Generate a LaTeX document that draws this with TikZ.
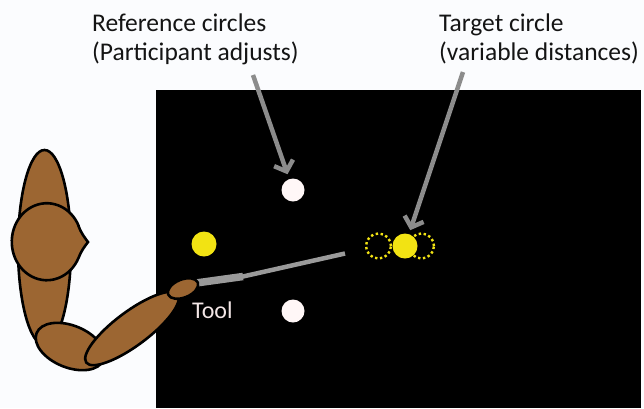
\documentclass[tikz,border=0pt]{standalone}
\usepackage{fontspec}
\setmainfont{Carlito}
\usetikzlibrary{arrows.meta,calc}
\definecolor{skin}{HTML}{9C6632}
\definecolor{spot}{HTML}{F2E313}
\definecolor{pointer}{HTML}{8C8C8C}
\definecolor{toolgray}{HTML}{9A9A9A}
\definecolor{paper}{HTML}{FBFCFE}
\definecolor{tooltext}{HTML}{F3E6E6}
\tikzset{
  limb/.style={fill=skin, draw=black, line width=2.6pt},
  refdot/.style={circle, fill=white!97!red, minimum size=23pt, inner sep=0pt},
  yellowdot/.style={circle, fill=spot, minimum size=25pt, inner sep=0pt},
  ghost/.style={circle, draw=spot, line width=2.4pt, dash pattern=on 2.4pt off 2.6pt, minimum size=25pt, inner sep=0pt},
  caption/.style={font=\fontsize{25.5}{29}\selectfont, text=black!92, align=left, inner sep=0pt, anchor=base west},
  pointerarrow/.style={draw=pointer, line width=4.5pt, -{Straight Barb[length=9pt,width=20pt]}}
}
\begin{document}
\begin{tikzpicture}[x=1pt, y=-1pt]
  % page and screen
  \fill[paper] (0,0) rectangle (644,408);
  \useasboundingbox (0,0) rectangle (644,408);
  \fill[black] (156,90) rectangle (641,408);

  % circles on the screen
  \node[refdot] (refA) at (293,190) {};
  \node[refdot] (refB) at (293,311) {};
  \node[yellowdot] (start) at (204,244) {};
  \node[ghost] (near) at (378.5,246) {};
  \node[ghost] (far) at (421.5,246) {};
  \node[yellowdot] (target) at (405,246) {};

  % captions (base anchor sits on the second line)
  \node[caption] (reflabel) at (92,60) {Reference circles\\(Participant adjusts)};
  \node[caption] (tgtlabel) at (439,60) {Target circle\\(variable distances)};
  \coordinate (reftail) at (253,75);
  \coordinate (tgttail) at (463,72);
  \draw[pointerarrow, shorten >=5pt] (reftail) -- (refA);
  \draw[pointerarrow, shorten >=4pt] (tgttail) -- (target);

  % tool held in the hand
  \coordinate (grip) at (196,283);
  \coordinate (joint) at (243,276.5);
  \coordinate (toolend) at (345,253.5);
  \draw[toolgray, line width=7.5pt] (grip) -- (joint);
  \draw[toolgray, line width=4.5pt] ($(joint)+(-1,0.2)$) -- (toolend);
  \node[font=\fontsize{24}{28}\selectfont, text=tooltext, anchor=base west, inner sep=0pt] (toollabel) at (192,318) {Tool};

  % arm and head
  \draw[limb, shift={(44.5,247.5)}] (0,0) ellipse [x radius=26.5pt, y radius=97.5pt];
  \draw[limb] (78.5,226) .. controls (81,233) and (85,238) .. (88,242)
      .. controls (85,246) and (81,251) .. (78.5,258)
      arc [start angle=25, end angle=335, x radius=35, y radius=38.5] -- cycle;
  \draw[limb, shift={(70,346.5)}, rotate=-22] (0,0) ellipse [x radius=36pt, y radius=21pt];
  \draw[limb, shift={(132,328.5)}, rotate=36.7] (0,0) ellipse [x radius=57pt, y radius=17pt];
  \draw[limb, shift={(183,288.5)}, rotate=22] (0,0) ellipse [x radius=16pt, y radius=9pt];
\end{tikzpicture}
\end{document}
